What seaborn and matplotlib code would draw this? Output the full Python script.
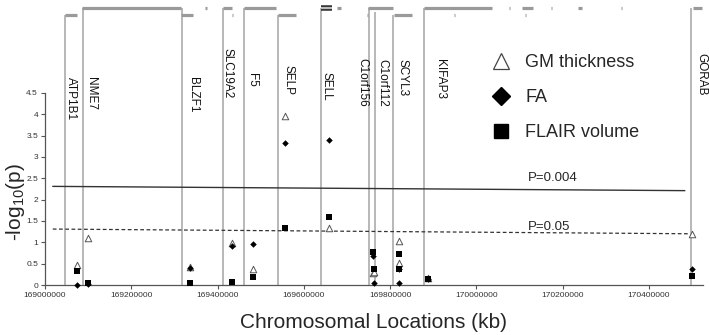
# Association plot: -log10(p) of SNPs along chromosome 1 with gene track on top
import numpy as np
import pandas as pd
import matplotlib
matplotlib.use("Agg")
import matplotlib.pyplot as plt
import matplotlib.transforms as mtransforms
from matplotlib.lines import Line2D
import seaborn as sns

# genes (vertical lines) and their labels
gene_names = ["ATP1B1", "NME7", "BLZF1", "SLC19A2", "F5", "SELP", "SELL",
              "C1orf156", "C1orf112", "SCYL3", "KIFAP3", "GORAB"]
gene_pos = [169046000, 169088000, 169317000, 169412000, 169461000, 169540000,
            169640000, 169751000, 169765000, 169806000, 169878000, 170497000]

# SNP positions and -log10(p) for each phenotype
snp_pos = [169075000, 169100000, 169336000, 169433000, 169483000, 169556000,
           169659000, 169760000, 169762000, 169820000, 169821000, 169888000,
           170499000]
gm_thickness = [0.46, 1.11, 0.41, 0.98, 0.37, 3.96, 1.33, 0.27, 0.30, 1.04, 0.52, 0.16, 1.20]
fa = [0.00, 0.02, 0.40, 0.91, 0.96, 3.32, 3.40, 0.68, 0.05, 0.04, 0.37, 0.14, 0.37]
flair_volume = [0.33, 0.05, 0.04, 0.08, 0.18, 1.34, 1.60, 0.78, 0.37, 0.73, 0.37, 0.14, 0.21]

# gene track (start, end) on two rows
track_row1 = [(169086000, 169315000), (169371000, 169375000), (169412000, 169433000),
              (169461000, 169535000), (169676000, 169686000),
              (169749000, 169806000), (169878000, 170036000), (170075000, 170078000),
              (170105000, 170131000), (170172000, 170175000), (170235000, 170244000),
              (170335000, 170337000), (170502000, 170523000)]
track_sell = (169640000, 169665000)
track_row2 = [(169046000, 169074000), (169315000, 169343000), (169433000, 169436000),
              (169540000, 169582000), (169746000, 169749000), (169809000, 169850000),
              (169947000, 169950000), (170112000, 170115000)]

# significance thresholds (drawn slightly tilted as in the original)
thr_labels = ["P=0.004", "P=0.05"]
thr_x = [169018000, 170483000]
thr_strict = [2.31, 2.21]
thr_loose = [1.31, 1.20]

xticks = [169000000, 169200000, 169400000, 169600000, 169800000,
          170000000, 170200000, 170400000]
yticks = [0, 0.5, 1, 1.5, 2, 2.5, 3, 3.5, 4, 4.5]
ytick_labels = ["0", "0.5", "1", "1.5", "2", "2.5", "3", "3.5", "4", "4.5"]

df = pd.DataFrame({"pos": snp_pos, "GM thickness": gm_thickness,
                   "FA": fa, "FLAIR volume": flair_volume})
long = df.melt(id_vars="pos", var_name="measure", value_name="logp")

sns.set_style("white")
plt.rcParams["font.family"] = ["Liberation Sans", "DejaVu Sans"]
plt.rcParams["mathtext.default"] = "regular"

fig = plt.figure(figsize=(7.09, 3.35), dpi=100)
ax = fig.add_axes([45 / 709, 50 / 335, 658 / 709, 285 / 335])

# gene lines
line_top = [6.32, 6.49, 6.49, 6.49, 6.49, 6.32, 6.49, 6.49, 6.40, 6.32, 6.49, 6.49]
ax.vlines(gene_pos, 0, line_top, color="#ababab", lw=1.2, zorder=1)

# gene track bars
for s, e in track_row1:
    ax.plot([s, e], [6.49, 6.49], color="#9a9a9a", lw=2.3, solid_capstyle="butt", zorder=2)
for s, e in track_row2:
    ax.plot([s, e], [6.33, 6.33], color="#9a9a9a", lw=2.3, solid_capstyle="butt", zorder=2)
ax.plot(list(track_sell), [6.49, 6.49], color="#333333", lw=4, solid_capstyle="butt", zorder=2)
ax.plot(list(track_sell), [6.49, 6.49], color="#bbbbbb", lw=1.5, solid_capstyle="butt", zorder=3)

# gene labels
label_dx = [6, 8, 11, 5, 8, 11, 5, -7, 7, 10, 16, 10]
label_y = [4.87, 4.87, 4.87, 5.55, 4.96, 5.15, 4.99, 5.32, 5.29, 5.29, 5.29, 5.43]
for name, x, dx, y in zip(gene_names, gene_pos, label_dx, label_y):
    tr = mtransforms.offset_copy(ax.transData, fig=fig, x=dx, y=0, units="dots")
    ax.text(x, y, name, transform=tr, rotation=270, ha="center", va="top",
            fontsize=8.5, color="#111111")

# thresholds
ax.plot(thr_x, thr_strict, color="#333333", lw=1.0)
ax.plot([thr_x[0], 170494000], thr_loose, color="#333333", lw=0.9, ls=(0, (3, 2)))
ax.text(170119000, 2.51, thr_labels[0], fontsize=9.5, va="center", ha="left")
ax.text(170119000, 1.36, thr_labels[1], fontsize=9.5, va="center", ha="left")

# points
sns.scatterplot(data=long[long.measure == "GM thickness"], x="pos", y="logp", ax=ax,
                marker="^", color="white", edgecolor="#555555", linewidth=0.7, s=22,
                legend=False, zorder=4, clip_on=False)
sns.scatterplot(data=long[long.measure == "FA"], x="pos", y="logp", ax=ax,
                marker="D", color="black", edgecolor="black", linewidth=0, s=11,
                legend=False, zorder=5, clip_on=False)
sns.scatterplot(data=long[long.measure == "FLAIR volume"], x="pos", y="logp", ax=ax,
                marker="s", color="black", edgecolor="black", linewidth=0, s=15,
                legend=False, zorder=5, clip_on=False)

# legend
handles = [Line2D([], [], marker="^", mfc="white", mec="#444444", mew=0.9, ms=11, ls="none"),
           Line2D([], [], marker="D", mfc="black", mec="black", ms=9, ls="none"),
           Line2D([], [], marker="s", mfc="black", mec="black", ms=10, ls="none")]
ax.legend(handles, ["GM thickness", "FA", "FLAIR volume"], loc="upper left",
          bbox_to_anchor=(0.665, 0.81), frameon=False, fontsize=13,
          labelspacing=1.0, handletextpad=0.35, borderpad=0, borderaxespad=0)

# axes
ax.set_xlim(169000000, 170525000)
ax.set_ylim(0, 6.675)
ax.set_xticks(xticks)
ax.set_xticklabels([str(t) for t in xticks])
ax.set_yticks(yticks)
ax.set_yticklabels(ytick_labels)
ax.tick_params(axis="both", direction="out", length=3, width=0.8, color="#555555",
               labelsize=6, labelcolor="#333333", pad=2, left=True, bottom=True)
for lab in ax.get_xticklabels():
    lab.set_family(["Liberation Sans Narrow", "Liberation Sans"])
for sp in ["top", "right"]:
    ax.spines[sp].set_visible(False)
ax.spines["left"].set_bounds(0, 4.5)
for sp in ["left", "bottom"]:
    ax.spines[sp].set_color("#555555")
    ax.spines[sp].set_linewidth(0.9)

ax.set_xlabel("Chromosomal Locations (kb)", fontsize=15, labelpad=10)
ax.set_ylabel("-log$_{10}$(p)", fontsize=15)
ax.yaxis.set_label_coords(-0.028, 0.29)

fig.savefig("out.png", dpi=100)
